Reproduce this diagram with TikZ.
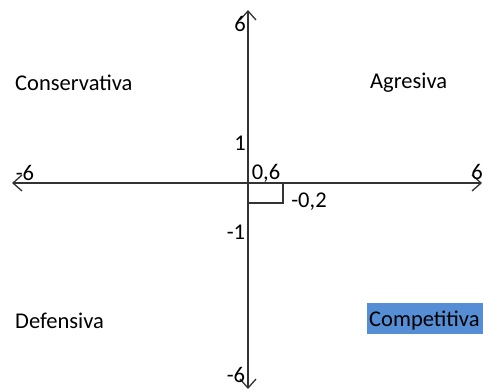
\documentclass[tikz,border=0pt]{standalone}
\usepackage{fontspec}
\setmainfont{Carlito}
\usetikzlibrary{arrows.meta}
\definecolor{hiblue}{RGB}{85,142,213}
\tikzset{
  axis/.style={line width=1.4pt, draw=black!80, {Straight Barb[length=9pt,width=16pt,line width=1.3pt]}-{Straight Barb[length=9pt,width=16pt,line width=1.3pt]}},
  lbl/.style={inner sep=0pt, font=\fontsize{22.5}{26}\selectfont, text=black},
  thin/.style={line width=1.2pt, draw=black!80}
}
\begin{document}
\begin{tikzpicture}[x=1pt,y=-1pt]
\useasboundingbox (0,0) rectangle (483,389);
\coordinate (L) at (12,183);
\coordinate (R) at (482,183);
\coordinate (T) at (248,10);
\coordinate (B) at (248,389);
\coordinate (O) at (248,183);
\coordinate (c1) at (283,183);
\coordinate (c2) at (283,203);
\coordinate (c3) at (248,203);
\draw[axis] (L) -- (R);
\draw[axis] (B) -- (T);
\draw[thin] (c1) -- (c2) -- (c3);
\node[lbl] (t6) at (240,24) {6};
\node[lbl] (l6) at (25,173) {-6};
\node[lbl] (r6) at (477,172) {6};
\node[lbl] (b6) at (236,375) {-6};
\node[lbl] (one) at (240,143) {1};
\node[lbl] (zs) at (266,173) {0,6};
\node[lbl] (mz) at (309,202) {-0,2};
\node[lbl] (m1) at (236,232) {-1};
\node[lbl, anchor=west] (cons) at (15,83) {Conservativa};
\node[lbl, anchor=west] (agr) at (370,83) {Agresiva};
\node[lbl, anchor=west] (def) at (15,321) {Defensiva};
\fill[hiblue] (367,303) rectangle (483,334);
\node[lbl, anchor=west] (comp) at (369,321) {Competitiva};
\end{tikzpicture}
\end{document}
